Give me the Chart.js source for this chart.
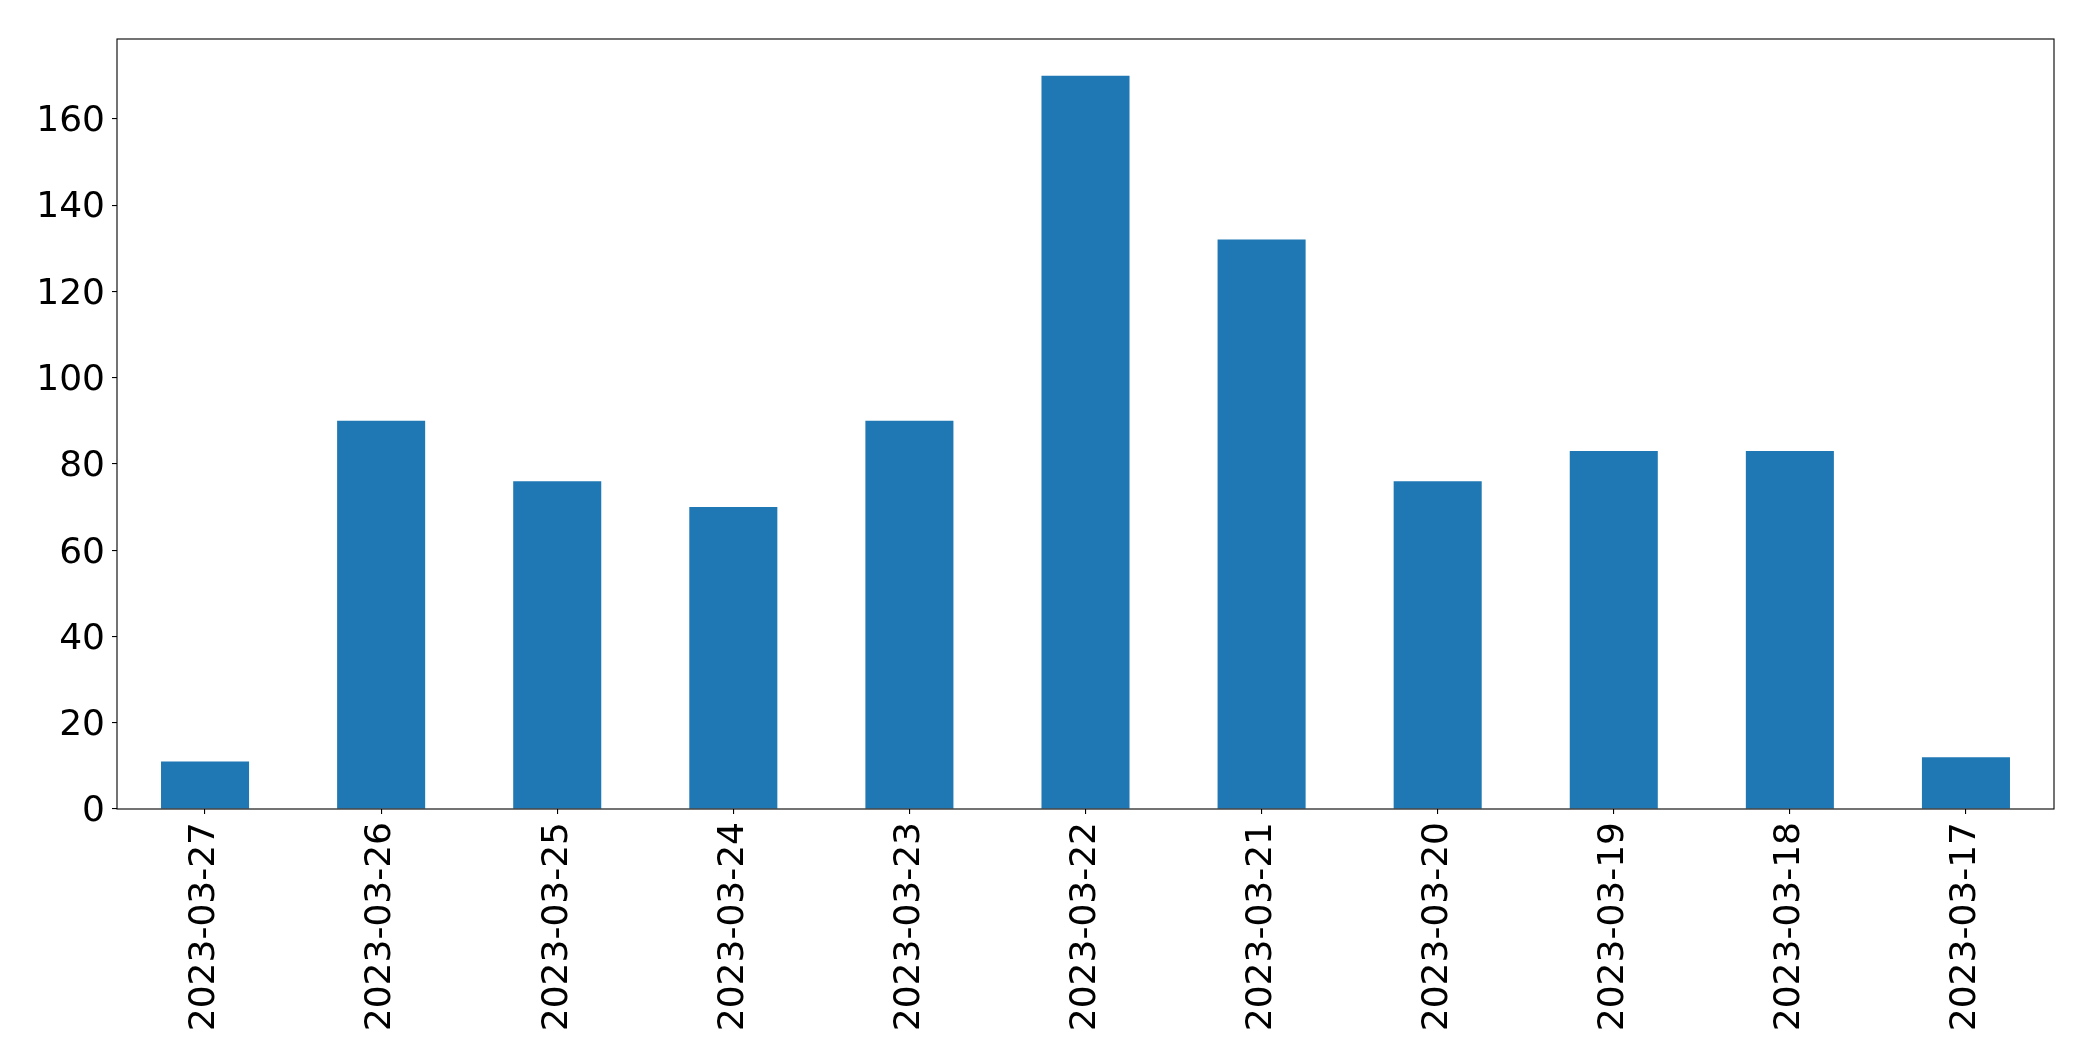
<!DOCTYPE html>
<html>
<head>
<meta charset="utf-8">
<script src="https://cdn.jsdelivr.net/npm/chart.js@4.4.0/dist/chart.umd.min.js"></script>
<style>
  html, body { margin: 0; padding: 0; background: #fff; }
  #wrap { width: 2093px; height: 1061px; }
</style>
</head>
<body>
<div id="wrap"><canvas id="graphique"></canvas></div>
<script>
// dates (ordre du graphique) et valeurs
const dates = ["2023-03-27", "2023-03-26", "2023-03-25", "2023-03-24", "2023-03-23", "2023-03-22",
  "2023-03-21", "2023-03-20", "2023-03-19", "2023-03-18", "2023-03-17"];
const valeurs = [11, 90, 76, 70, 90, 170, 132, 76, 83, 83, 12];
const graduationsY = [0, 20, 40, 60, 80, 100, 120, 140, 160];

const couleur = "#1f77b4";
const police = "'DejaVu Sans', sans-serif";

// cadre noir autour de la zone du graphique
const cadre = {
  id: "cadre",
  afterDraw(chart) {
    const { ctx, chartArea } = chart;
    ctx.save();
    ctx.strokeStyle = "#000";
    ctx.lineWidth = 1.1;
    ctx.strokeRect(chartArea.left, chartArea.top, chartArea.right - chartArea.left, chartArea.bottom - chartArea.top);
    ctx.restore();
  }
};

const data = {
  labels: dates,
  datasets: [{
    data: valeurs,
    backgroundColor: couleur,
    barPercentage: 0.5,
    categoryPercentage: 1.0,
  }],
};

const config = {
  type: "bar",
  data: data,
  plugins: [cadre],
  options: {
    responsive: false,
    animation: false,
    layout: { padding: { left: 0, right: 39, top: 39, bottom: 0 } },
    plugins: { legend: { display: false }, tooltip: { enabled: false } },
    scales: {
      x: {
        grid: { display: true, offset: false, drawOnChartArea: false, drawTicks: true, tickLength: 5, color: "#000", lineWidth: 1.1 },
        border: { display: false },
        ticks: {
          color: "#000",
          font: { family: police, size: 36 },
          minRotation: 90,
          maxRotation: 90,
          autoSkip: false,
          padding: 8,
        },
        afterFit(axis) { axis.height = 252; },
      },
      y: {
        min: 0,
        max: 178.5,
        grid: { display: true, drawOnChartArea: false, drawTicks: true, tickLength: 5, color: "#000", lineWidth: 1.1 },
        border: { display: false },
        ticks: {
          color: "#000",
          font: { family: police, size: 36 },
          padding: 7,
          labelOffset: 3,
        },
        afterBuildTicks(axis) { axis.ticks = graduationsY.map(v => ({ value: v })); },
        afterFit(axis) { axis.width = 117; },
      },
    },
  },
};

const canvas = document.querySelector("#graphique");
canvas.width = 2093;
canvas.height = 1061;
new Chart(canvas, config);
</script>
</body>
</html>
